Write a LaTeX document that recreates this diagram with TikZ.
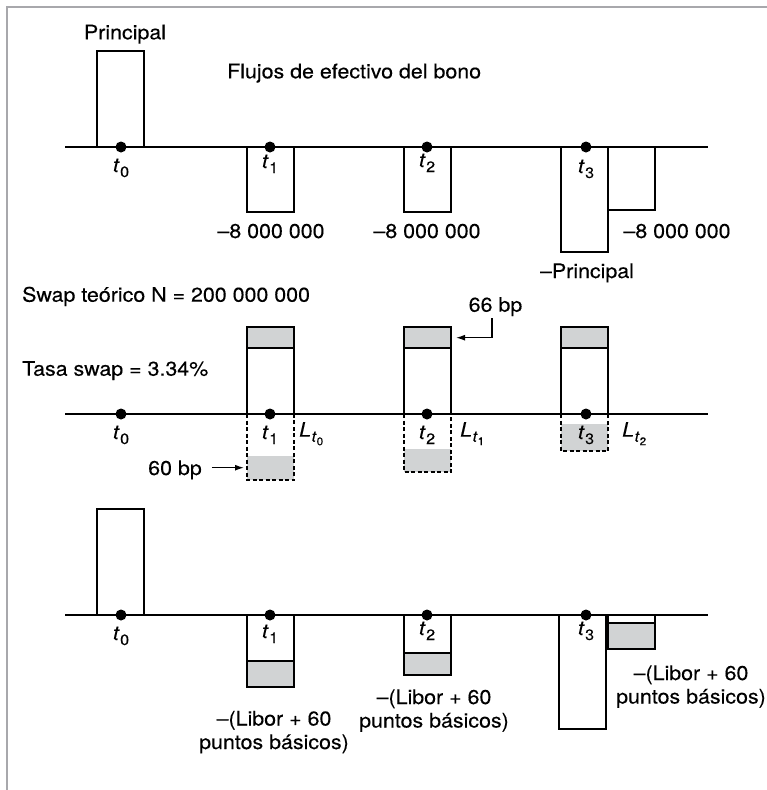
\documentclass[tikz,border=0pt]{standalone}
\usepackage{fontspec}
\setmainfont{TeX Gyre Heros}[FakeStretch=1.07,FakeBold=0.25]
\usepackage{tikz}
\usetikzlibrary{arrows.meta,calc,positioning}
\definecolor{framegray}{HTML}{A8A8AC}
\definecolor{shadegray}{HTML}{D1D3D4}
\newcommand{\lowsub}[1]{\raisebox{-5pt}{\fontsize{15}{15}\selectfont #1}}
\newcommand{\tlab}[1]{\textit{t}\kern0.5pt\lowsub{#1}}
\newcommand{\Llab}[1]{\textit{L}\kern0.5pt\raisebox{-5pt}{\fontsize{15}{15}\selectfont
  \textit{t}\raisebox{-3.5pt}{\fontsize{11}{11}\selectfont #1}}}

\begin{document}
\begin{tikzpicture}[x=1pt,y=1pt,>={Latex[length=9pt,width=6pt]},
  txt/.style={font=\fontsize{20}{23.5}\selectfont,inner sep=0pt,anchor=base},
  bar/.style={line width=2pt},
  dbar/.style={line width=1.7pt,dash pattern=on 4pt off 2.5pt},
  axis/.style={line width=1.2pt},
  shade/.style={fill=shadegray}]
\useasboundingbox (0,0) rectangle (767,-790);
\draw[framegray,line width=2pt] (7,-790)--(7,-7)--(767,-7);

% bond cash flows
\begin{scope}[shift={(0,-147)}]
  \draw[bar] (97,0) rectangle (144,96);
  \draw[bar] (247,0) rectangle (294,-65);
  \draw[bar] (404,0) rectangle (451,-65);
  \draw[bar] (561,0) rectangle (608,-105);
  \draw[bar] (608,0) rectangle (655,-63);
  \draw[axis] (65,0)--(708,0);
  \foreach \x in {121,270,427,586} \fill (\x,0) circle (5.5pt);
  \node[txt] (prinA) at (125,107.7) {Principal};
  \node[txt,anchor=base west] (flows) at (227,68.7) {Flujos de efectivo del bono};
  \foreach \x/\y [count=\i from 0] in {121/-25,270/-21,427/-20,586/-26}
    \node[txt] (tA\i) at (\x,\y) {\tlab{\i}};
  \foreach \x [count=\i] in {271,427,677}
    \node[txt] (cpA\i) at (\x,-91) {\textendash8 000 000};
  \node[txt] (prinB) at (587,-131) {\textendash Principal};
\end{scope}

% swap legs
\begin{scope}[shift={(0,-414)}]
  \foreach \x/\d/\s in {247/66/42,404/58/35,561/37/10}{
    \fill[shade] (\x,-\s) rectangle (\x+47,-\d);
    \draw[dbar] (\x,0)--(\x,-\d)--(\x+47,-\d)--(\x+47,0);
    \draw[bar] (\x,0) rectangle (\x+47,87);
    \draw[bar,shade] (\x,66) rectangle (\x+47,87);
  }
  \draw[axis] (65,0)--(708,0);
  \foreach \x in {121,270,427,586} \fill (\x,0) circle (5.5pt);
  \node[txt,anchor=base west] (swapN) at (22,112.3) {Swap teórico N = 200 000 000};
  \node[txt,anchor=base west] (swapR) at (22,38.3) {Tasa swap = 3.34\%};
  \foreach \x [count=\i from 0] in {121,270,427,586}
    \node[txt] (tB\i) at (\x,-25) {\tlab{\i}};
  \foreach \x [count=\i from 0] in {299,460,622}
    \node[txt,anchor=base west] (libB\i) at (\x,-22.7) {\Llab{\i}};
  \node[txt] (bpA) at (495.5,102.3) {66 bp};
  \coordinate (bpAend) at (456,76.3);
  \draw[line width=1.3pt,->] ([xshift=-3.5pt,yshift=-2pt]bpA.south) |- (bpAend);
  \node[txt,inner xsep=10pt] (bpB) at (175,-61) {60 bp};
  \coordinate (bpBend) at (244,-53.7);
  \draw[line width=1.3pt,->] (bpB.east |- bpBend) -- (bpBend);
\end{scope}

% net cash flows
\begin{scope}[shift={(0,-615)}]
  \draw[bar] (97,0) rectangle (144,106);
  \draw[bar] (247,0) rectangle (294,-72);
  \draw[bar,shade] (247,-46) rectangle (294,-72);
  \draw[bar] (404,0) rectangle (451,-60);
  \draw[bar,shade] (404,-38) rectangle (451,-60);
  \draw[bar] (559,0) rectangle (606,-114);
  \draw[bar] (608,0) rectangle (655,-34);
  \draw[bar,shade] (608,-8) rectangle (655,-34);
  \draw[axis] (65,0)--(708,0);
  \foreach \x in {121,270,427,586} \fill (\x,0) circle (5.5pt);
  \foreach \x/\y [count=\i from 0] in {121/-25,270/-23,427/-20,586/-20}
    \node[txt] (tC\i) at (\x,\y) {\tlab{\i}};
  \foreach \x/\y [count=\i] in {274/-134,434/-112.5,691/-88.5}
    \node[txt,align=center] (netC\i) at (\x,\y) {\textendash(Libor + 60\\puntos básicos)};
\end{scope}
\end{tikzpicture}
\end{document}
